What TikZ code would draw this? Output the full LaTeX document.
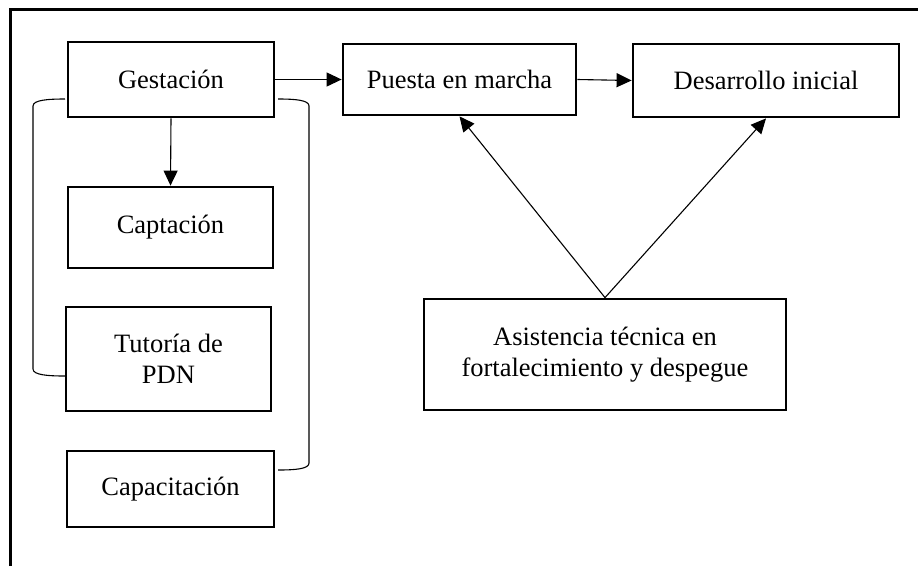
\documentclass[tikz,border=0pt]{standalone}
\usepackage{fontspec}
\setmainfont{Liberation Serif}
\usetikzlibrary{arrows.meta}
\begin{document}
\begin{tikzpicture}[x=1pt,y=-1pt,
  box/.style={draw=black,line width=2.8pt,align=center,inner sep=0pt,
    font=\fontsize{26.5}{31.5}\selectfont},
  conn/.style={line width=1.1pt,-{Triangle[length=15pt,width=14pt]}},
  brace/.style={line width=1.1pt},
  frame/.style={line width=3pt}]
\useasboundingbox (0,0) rectangle (918,566);
\draw[frame] (10,566) -- (10,9) -- (918,9);
\node[box,minimum width=206pt,minimum height=75pt] (ges) at (171,79.5) {Gestación};
\node[box,minimum width=205pt,minimum height=81pt] (cap) at (170.5,227.5) {Captación};
\node[box,minimum width=205pt,minimum height=104pt] (tut) at (168.5,359) {Tutoría de\\PDN};
\node[box,minimum width=207pt,minimum height=76pt] (capa) at (170.5,489) {Capacitación};
\node[box,minimum width=233pt,minimum height=71pt] (pue) at (459.5,79.5) {Puesta en marcha};
\node[box,minimum width=266pt,minimum height=73pt] (des) at (766,80.5) {Desarrollo inicial};
\node[box,minimum width=362pt,minimum height=111pt] (asi) at (605,354.5) {Asistencia técnica en\\fortalecimiento y despegue};
\draw[conn] (ges.east) -- (pue.west);
\draw[conn] (pue.east) -- (des.west);
\draw[conn] (ges.south) -- (cap.north);
\draw[conn] (asi.north) -- (pue.south);
\draw[conn] (asi.north) -- (des.south);
\coordinate (lb1) at (65,99);
\coordinate (lb2) at (65,376);
\coordinate (rb1) at (278,99);
\coordinate (rb2) at (278,470);
\draw[brace] (lb1) .. controls (48,99) and (33,100) .. (33,106) -- (33,369) .. controls (33,375) and (48,376) .. (lb2);
\draw[brace] (rb1) .. controls (295,99) and (309,100) .. (309,106) -- (309,463) .. controls (309,469) and (295,470) .. (rb2);
\end{tikzpicture}
\end{document}
